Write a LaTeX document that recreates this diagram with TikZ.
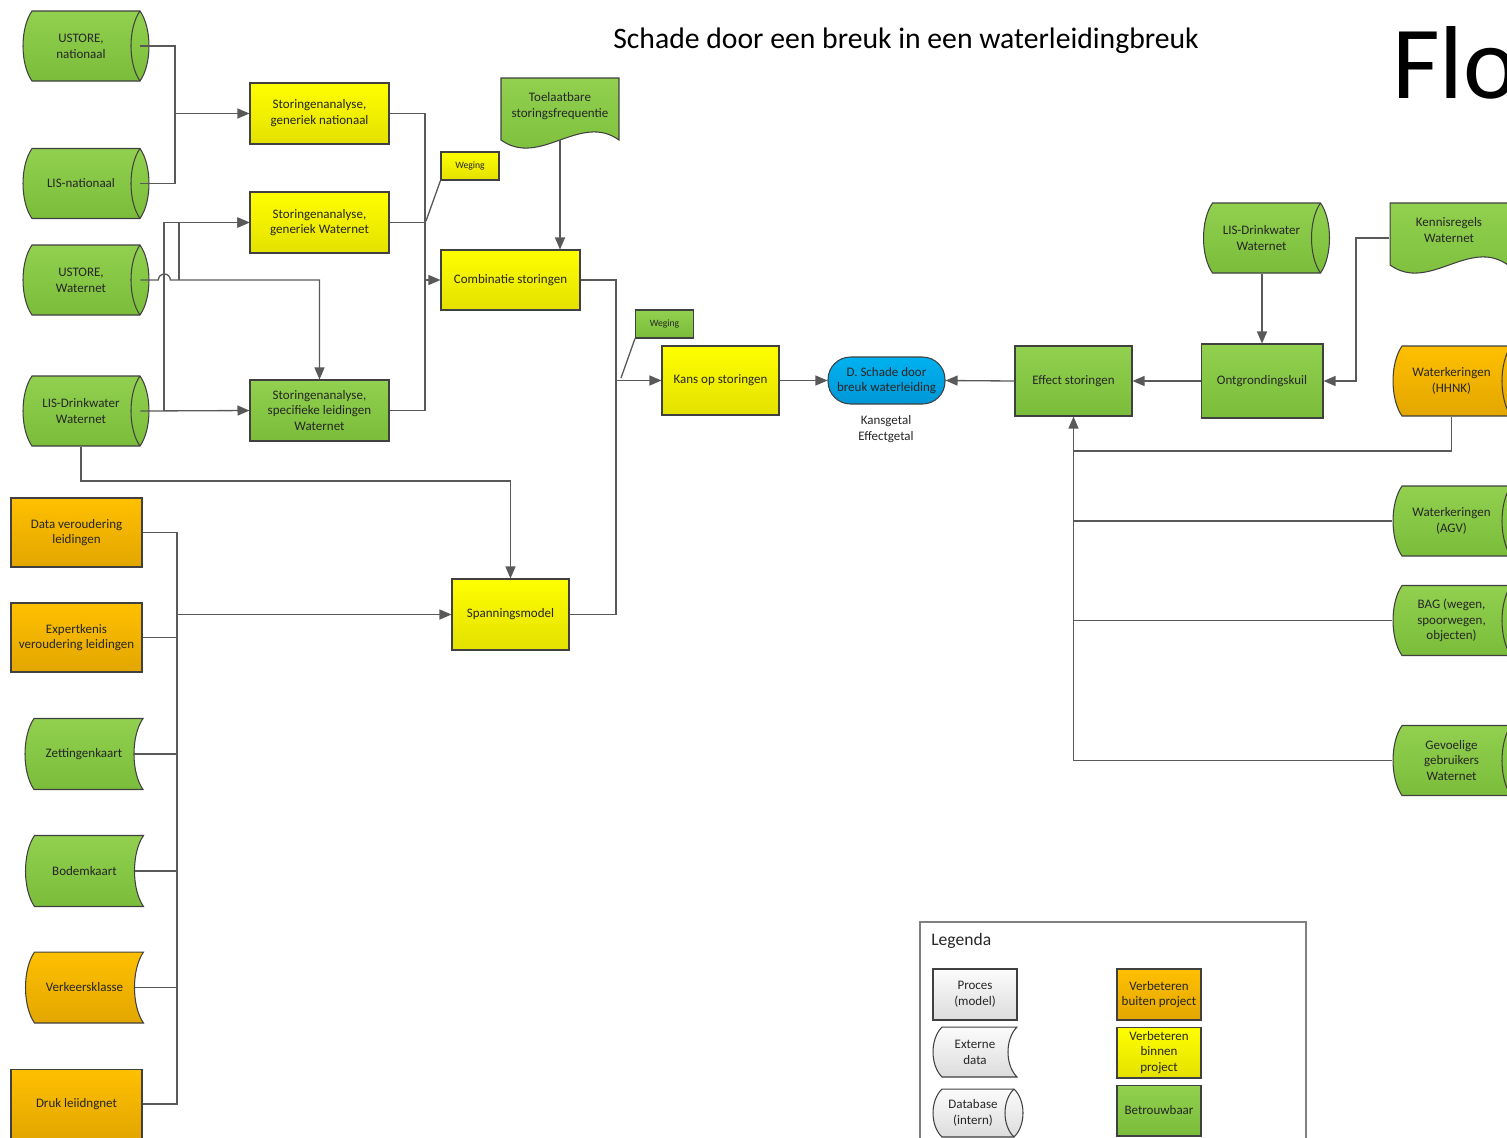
\documentclass[tikz,border=0pt]{standalone}
\usepackage{fontspec}
\setmainfont{Carlito}
\usetikzlibrary{arrows.meta,calc}

\definecolor{grtop}{RGB}{146,208,80}
\definecolor{grbot}{RGB}{122,189,58}
\definecolor{yetop}{RGB}{255,255,0}
\definecolor{yebot}{RGB}{228,224,0}
\definecolor{ortop}{RGB}{255,192,0}
\definecolor{orbot}{RGB}{226,166,0}
\definecolor{bltop}{RGB}{0,178,240}
\definecolor{blbot}{RGB}{0,150,214}
\definecolor{wttop}{RGB}{252,252,252}
\definecolor{wtbot}{RGB}{220,220,220}
\definecolor{edge}{RGB}{64,64,64}
\definecolor{lne}{RGB}{89,89,89}
\definecolor{txt}{RGB}{38,38,38}
\definecolor{frame}{RGB}{128,128,128}

\newcommand\boxfont{\fontsize{7.4}{9}\selectfont}
\newcommand\wegfont{\fontsize{5.5}{6.6}\selectfont}
\newcommand\titlefont{\fontsize{16.9}{19}\selectfont}
\newcommand\flofont{\fontsize{59}{60}\selectfont}
\newcommand\legfont{\fontsize{10}{12}\selectfont}
\newcommand\dbr{0.18cm}
\newcommand\dbm{0.02cm}
\newcommand\dbw{0.18cm}
\newcommand\dbo{0.2cm}

\tikzset{
  conn/.style={draw=lne, line width=0.75pt},
  arr/.style={conn, -{Triangle[length=0.24cm,width=0.2cm]}},
  proc/.style={draw=edge, line width=0.6pt, top color=#1top, bottom color=#1bot,
    text=txt, font=\boxfont, align=center, inner sep=1pt},
  sabox/.style={minimum width=2.78cm, minimum height=1.22cm},
  bron/.style={minimum width=2.62cm, minimum height=1.38cm},
  legbox/.style={minimum width=1.68cm, minimum height=1.02cm},
  weg/.style={minimum width=1.16cm, minimum height=0.56cm, font=\wegfont},
  rdb/.style={minimum width=2.78cm},
  dbase/.style={text=txt, font=\boxfont, align=center, inner sep=1pt,
    minimum width=2.76cm, minimum height=1.44cm,
    path picture={
      \shade[top color=#1top, bottom color=#1bot, draw=edge, line width=0.6pt]
        let \p1=(path picture bounding box.south west),
            \p2=(path picture bounding box.north east) in
        (\x1+\dbo+\dbm+\dbr,\y2-\dbm) -- (\x2-\dbm-\dbr,\y2-\dbm)
        .. controls (\x2-\dbm+\dbr/3,0.75*\y2+0.25*\y1) and (\x2-\dbm+\dbr/3,0.25*\y2+0.75*\y1) .. (\x2-\dbm-\dbr,\y1+\dbm)
        -- (\x1+\dbo+\dbm+\dbr,\y1+\dbm)
        .. controls (\x1+\dbo+\dbm-\dbr/3,0.25*\y2+0.75*\y1) and (\x1+\dbo+\dbm-\dbr/3,0.75*\y2+0.25*\y1) .. cycle;
      \draw[edge, line width=0.6pt]
        let \p1=(path picture bounding box.south west),
            \p2=(path picture bounding box.north east) in
        (\x2-\dbm-\dbr,\y2-\dbm)
        .. controls (\x2-\dbm-7*\dbr/3,0.75*\y2+0.25*\y1) and (\x2-\dbm-7*\dbr/3,0.25*\y2+0.75*\y1) .. (\x2-\dbm-\dbr,\y1+\dbm);
    }},
  extd/.style={text=txt, font=\boxfont, align=center, inner sep=1pt,
    minimum width=2.4cm, minimum height=1.46cm,
    path picture={
      \shade[top color=#1top, bottom color=#1bot, draw=edge, line width=0.6pt]
        let \p1=(path picture bounding box.south west),
            \p2=(path picture bounding box.north east) in
        (\x1+\dbm+\dbr,\y2-\dbm) -- (\x2-\dbm,\y2-\dbm)
        .. controls (\x2-\dbm-4*\dbr/3,0.75*\y2+0.25*\y1) and (\x2-\dbm-4*\dbr/3,0.25*\y2+0.75*\y1) .. (\x2-\dbm,\y1+\dbm)
        -- (\x1+\dbm+\dbr,\y1+\dbm)
        .. controls (\x1+\dbm-\dbr/3,0.25*\y2+0.75*\y1) and (\x1+\dbm-\dbr/3,0.75*\y2+0.25*\y1) .. cycle;
    }},
  doc/.style={text=txt, font=\boxfont, align=center, inner sep=1pt,
    minimum width=2.4cm, minimum height=1.44cm,
    path picture={
      \shade[top color=#1top, bottom color=#1bot, draw=edge, line width=0.6pt]
        let \p1=(path picture bounding box.south west),
            \p2=(path picture bounding box.north east) in
        (\x1+\dbm,\y2-\dbm) -- (\x2-\dbm,\y2-\dbm) -- (\x2-\dbm,\y1+\dbw)
        .. controls (0.667*\x2+0.333*\x1,\y1+\dbw+0.56cm) and (0.333*\x2+0.667*\x1,\y1+\dbw-0.56cm) .. (\x1+\dbm,\y1+\dbw)
        -- cycle;
    }}
}

\begin{document}
\begin{tikzpicture}[x=0.02cm,y=-0.02cm]
\useasboundingbox (0,0) rectangle (1507,1137);

% titels
\node[font=\titlefont, text=black, anchor=base] (title) at (906,48) {Schade door een breuk in een waterleidingbreuk};
\node[font=\flofont, text=black, anchor=base west, inner sep=0pt] (flo) at (1392,98) {Flo};

% bronnen links
\node[dbase=gr] (usnat) at (81,46) {USTORE,\\nationaal};
\node[dbase=gr] (lisnat) at (81,183.5) {LIS-nationaal};
\node[dbase=gr] (uswn) at (81,280) {USTORE,\\Waternet};
\node[dbase=gr] (lisdw) at (81,411) {LIS-Drinkwater\\Waternet};

% storingen
\node[proc=ye, sabox] (sanat) at (319.5,113.5) {Storingenanalyse,\\generiek nationaal};
\node[proc=ye, sabox] (sawn) at (319.5,222.5) {Storingenanalyse,\\generiek Waternet};
\node[proc=gr, sabox] (saspec) at (319.5,410.5) {Storingenanalyse,\\specifieke leidingen\\Waternet};
\node[proc=ye, weg] (weg1) at (470,166) {Weging};
\node[doc=gr] (toel) at (560,113) {Toelaatbare\\storingsfrequentie\\\mbox{}};
\node[proc=ye, minimum width=2.78cm, minimum height=1.2cm] (comb) at (510.5,280) {Combinatie storingen};
\node[proc=gr, weg] (weg2) at (664.5,324) {Weging};
\node[proc=ye, minimum width=2.34cm, minimum height=1.38cm] (kans) at (720.5,380.5) {Kans op storingen};
\node[proc=bl, rounded corners=0.45cm, minimum width=2.34cm, minimum height=0.94cm] (schade) at (886.5,380.5) {D. Schade door\\breuk waterleiding};
\node[font=\boxfont, text=txt, align=center] (kgetal) at (886,429) {Kansgetal\\Effectgetal};

% effect
\node[proc=gr, minimum width=2.34cm, minimum height=1.4cm] (effect) at (1073.5,381) {Effect storingen};
\node[proc=gr, minimum width=2.44cm, minimum height=1.48cm] (ontgr) at (1262,381) {Ontgrondingskuil};
\node[dbase=gr] (lisdw2) at (1261.5,238) {LIS-Drinkwater\\Waternet};
\node[doc=gr] (kennis) at (1449,238) {Kennisregels\\Waternet\\\mbox{}};
\node[dbase=or, rdb] (wkhhnk) at (1451.5,381) {Waterkeringen\\(HHNK)};
\node[dbase=gr, rdb] (wkagv) at (1451.5,521) {Waterkeringen\\(AGV)};
\node[dbase=gr, rdb] (bag) at (1451.5,620.5) {BAG (wegen,\\spoorwegen,\\objecten)};
\node[dbase=gr, rdb] (gevo) at (1451.5,760.5) {Gevoelige\\gebruikers\\Waternet};

% veroudering
\node[proc=or, bron] (dataver) at (76.5,532.5) {Data veroudering\\leidingen};
\node[proc=or, bron] (expert) at (76.5,637.5) {Expertkenis\\veroudering leidingen};
\node[extd=gr] (zett) at (84,754) {Zettingenkaart};
\node[extd=gr] (bodem) at (84.5,871) {Bodemkaart};
\node[extd=or] (verkeer) at (84.5,987.5) {Verkeersklasse};
\node[proc=or, bron] (druk) at (76.5,1104) {Druk leiidngnet};
\node[proc=ye, minimum width=2.34cm, minimum height=1.42cm] (span) at (510.5,614.5) {Spanningsmodel};

% legenda
\draw[draw=frame, line width=0.6pt] (920,922) rectangle (1306,1160);
\node[font=\legfont, text=txt, anchor=base west, inner sep=0pt] (legtitle) at (931,945) {Legenda};
\node[proc=wt, legbox] (lproc) at (975,994.5) {Proces\\(model)};
\node[extd=wt, minimum width=1.72cm, minimum height=1.04cm] (lext) at (975,1052) {Externe\\data};
\node[dbase=wt, minimum width=2.04cm, minimum height=1.0cm] (ldb) at (973,1113) {Database\\(intern)};
\node[proc=or, legbox] (lbuiten) at (1159,994.5) {Verbeteren\\buiten project};
\node[proc=ye, legbox] (lbinnen) at (1159,1052.5) {Verbeteren\\binnen\\project};
\node[proc=gr, legbox] (lbetr) at (1159,1110.5) {Betrouwbaar};

% knooppunten
\coordinate (j1) at (175,113.5);
\coordinate (j2) at (164,411);
\coordinate (j3) at (179,280);
\coordinate (j4) at (425,280);
\coordinate (w1) at (426,221);
\coordinate (j5) at (616,380.5);
\coordinate (w2) at (621,378);
\coordinate (j6) at (1356,238);
\coordinate (j7) at (1073.5,451);
\coordinate (j8) at (510.5,481);
\coordinate (j9) at (177,614.5);

% verbindingen
\draw[conn] ([xshift=-0.2cm]usnat.east) -| (j1);
\draw[conn] ([xshift=-0.2cm]lisnat.east) -| (j1);
\draw[arr] (j1) -- (sanat.west);
\draw[arr] ([xshift=-0.2cm]lisdw.east) -- (saspec.west);
\draw[arr] (j2) |- (sawn.west);
\draw[arr] ([xshift=-0.2cm]uswn.east) -- ++(0.36cm,0) arc[start angle=180,end angle=0,radius=0.12cm] -| (saspec.north);
\draw[arr] (j3) |- (sawn.west);
\draw[conn] (sanat.east) -| (j4);
\draw[conn] (saspec.east) -| (j4);
\draw[conn] (sawn.east) -- (sawn.east -| j4);
\draw[arr] (j4) -- (comb.west);
\draw[conn] (weg1.south west) -- (w1);
\draw[arr] ([yshift=0.18cm]toel.south) -- (toel.south |- comb.north);
\draw[conn] (comb.east) -| (j5);
\draw[conn] (span.east) -| (j5);
\draw[arr] (j5) -- (kans.west);
\draw[conn] (weg2.south west) -- (w2);
\draw[arr] (kans.east) -- (schade.west);
\draw[arr] (effect.west) -- (schade.east);
\draw[arr] (ontgr.west) -- (effect.east);
\draw[arr] (lisdw2.south -| ontgr.north) -- (ontgr.north);
\draw[arr] (kennis.west) -- (j6) |- (ontgr.east);
\draw[conn] (wkhhnk.south) |- (j7);
\draw[conn] ([xshift=0.2cm]wkagv.west) -- (wkagv.west -| effect.south);
\draw[conn] ([xshift=0.2cm]bag.west) -- (bag.west -| effect.south);
\draw[arr] ([xshift=0.2cm]gevo.west) -| (effect.south);
\draw[arr] (lisdw.south) |- (j8) -- (span.north);
\draw[conn] (dataver.east) -| (j9);
\draw[conn] (druk.east) -| (j9);
\draw[conn] (expert.east) -- (expert.east -| j9);
\draw[conn] ([xshift=-0.2cm]zett.east) -- (zett.east -| j9);
\draw[conn] ([xshift=-0.2cm]bodem.east) -- (bodem.east -| j9);
\draw[conn] ([xshift=-0.2cm]verkeer.east) -- (verkeer.east -| j9);
\draw[arr] (j9) -- (span.west);
\end{tikzpicture}
\end{document}
